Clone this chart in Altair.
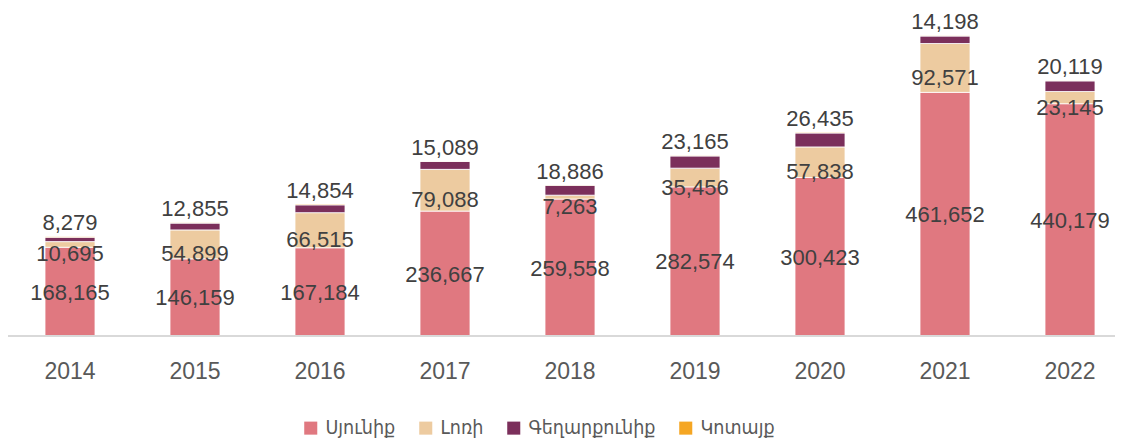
import altair as alt
import pandas as pd

years = ["2014", "2015", "2016", "2017", "2018", "2019", "2020", "2021", "2022"]
series = ["Սյունիք", "Լոռի", "Գեղարքունիք", "Կոտայք"]
syunik = [168165, 146159, 167184, 236667, 259558, 282574, 300423, 461652, 440179]
lori = [10695, 54899, 66515, 79088, 7263, 35456, 57838, 92571, 23145]
gegh = [8279, 12855, 14854, 15089, 18886, 23165, 26435, 14198, 20119]
kotayk = [1500, 1200, 1500, 400, 400, 1000, 1200, 1000, 800]
colors = ["#E07880", "#EDCBA0", "#7B2F5B", "#F5A623"]

vals = [syunik, lori, gegh, kotayk]
rows = []
for si, s in enumerate(series):
    for yi, y in enumerate(years):
        rows.append({"year": y, "series": s, "value": vals[si][yi], "ord": si})
df = pd.DataFrame(rows)

lab_rows = []
for yi, y in enumerate(years):
    total = syunik[yi] + lori[yi] + gegh[yi] + kotayk[yi]
    lab_rows.append({"year": y, "kind": "s", "pos": syunik[yi] / 2, "txt": f"{syunik[yi]:,}"})
    lab_rows.append({"year": y, "kind": "l", "pos": syunik[yi] + lori[yi] / 2, "txt": f"{lori[yi]:,}"})
    lab_rows.append({"year": y, "kind": "g", "pos": total, "txt": f"{gegh[yi]:,}"})
ldf = pd.DataFrame(lab_rows)

FONT = "Liberation Sans, DejaVu Sans"
LFONT = "DejaVu Sans Condensed, DejaVu Sans"
xscale = alt.Scale(domain=years, range=[37, 1087], paddingInner=0.6, paddingOuter=0)
yscale = alt.Scale(domain=[0, 595000], nice=False)

bars = alt.Chart(df).mark_bar(stroke="white", strokeWidth=0.8).encode(
    x=alt.X("year:N", scale=xscale, sort=years,
            axis=alt.Axis(title=None, domain=False, ticks=False, labelAngle=0,
                          labelFont=FONT, labelFontSize=23, labelColor="#595959",
                          labelPadding=24)),
    y=alt.Y("value:Q", stack="zero", scale=yscale, axis=None),
    color=alt.Color("series:N", sort=series,
                    scale=alt.Scale(domain=series, range=colors),
                    legend=alt.Legend(title=None, orient="none", direction="horizontal",
                                      legendX=293, legendY=396, symbolType="square",
                                      symbolSize=170, symbolStrokeWidth=0,
                                      labelFont=LFONT, labelFontSize=19.5, labelColor="#595959",
                                      columnPadding=20, labelOffset=5)),
    order=alt.Order("ord:Q", sort="ascending"),
)

axis_line = alt.Chart(pd.DataFrame({"z": [0]})).mark_rule(color="#D9D9D9", strokeWidth=2).encode(
    x=alt.value(-1), x2=alt.value(1115), y=alt.Y("z:Q", scale=yscale)
)

def labels(kind, dy, baseline="middle"):
    return alt.Chart(ldf[ldf["kind"] == kind]).mark_text(
        font=FONT, fontSize=22, color="#404040", dy=dy, baseline=baseline
    ).encode(
        x=alt.X("year:N", scale=xscale, sort=years),
        y=alt.Y("pos:Q", scale=yscale),
        text="txt:N",
    )

chart = alt.layer(
    bars, axis_line, labels("s", 1), labels("l", 10), labels("g", -13)
).properties(
    width=1107, height=314,
    autosize=alt.AutoSizeParams(type="none"),
    padding={"left": 0, "top": 14, "right": 0, "bottom": 102},
).configure_view(stroke=None)

chart.save("out.html", embed_options={"renderer": "svg", "actions": False})
